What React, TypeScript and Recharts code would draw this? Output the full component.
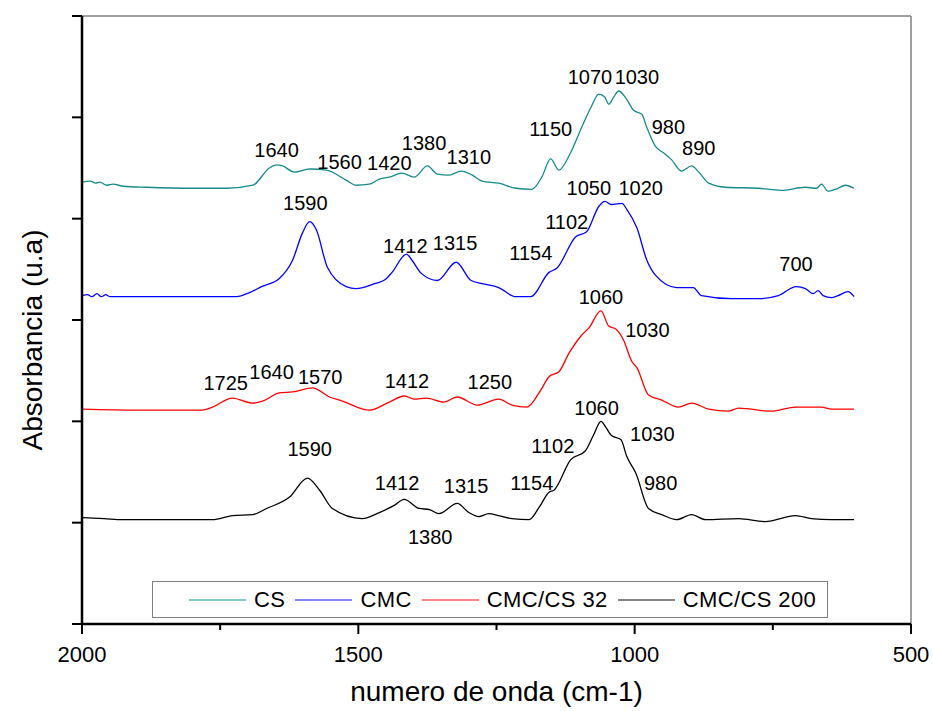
import { LineChart, Line, XAxis, YAxis, ReferenceDot, ReferenceLine, Legend } from "recharts";

const W = 933;
const H = 711;
const FONT = "'Liberation Sans', Arial, sans-serif";

// x axis (wavenumber, cm-1)
const xTicks = [2000, 1750, 1500, 1250, 1000, 750, 500];
const xMajor = [2000, 1500, 1000, 500];
const yTicks = [0, 1, 2, 3, 4, 5, 6];

// CS
const csWave = [2000, 1985, 1975, 1968, 1955, 1944, 1925, 1883, 1800, 1738, 1691, 1661, 1648, 1637, 1616, 1588, 1558, 1522, 1504, 1480, 1462, 1444, 1421, 1399, 1375, 1357, 1336, 1314, 1294, 1276, 1246, 1215, 1186, 1168, 1152, 1137, 1116, 1096, 1079, 1065, 1054, 1047, 1038, 1029, 1016, 1002, 987, 978, 962, 948, 933, 915, 897, 884, 866, 836, 776, 735, 691, 671, 662, 650, 632, 619, 603];
const csAbs = [4.36, 4.37, 4.35, 4.36, 4.33, 4.34, 4.32, 4.31, 4.3, 4.3, 4.33, 4.5, 4.53, 4.52, 4.46, 4.49, 4.48, 4.38, 4.33, 4.34, 4.39, 4.41, 4.45, 4.41, 4.52, 4.44, 4.43, 4.47, 4.43, 4.37, 4.35, 4.3, 4.29, 4.41, 4.59, 4.48, 4.65, 4.9, 5.1, 5.23, 5.2, 5.13, 5.2, 5.26, 5.19, 5.07, 5.03, 4.9, 4.71, 4.65, 4.58, 4.47, 4.52, 4.46, 4.35, 4.31, 4.3, 4.28, 4.31, 4.3, 4.34, 4.27, 4.3, 4.33, 4.3];

// CMC
const cmcWave = [2000, 1990, 1982, 1973, 1965, 1957, 1949, 1926, 1823, 1720, 1697, 1675, 1643, 1619, 1601, 1588, 1576, 1556, 1522, 1504, 1475, 1449, 1439, 1413, 1403, 1386, 1357, 1323, 1296, 1276, 1246, 1215, 1188, 1155, 1141, 1107, 1087, 1065, 1054, 1042, 1023, 1014, 996, 978, 962, 924, 894, 879, 825, 776, 740, 708, 691, 677, 668, 659, 644, 632, 614, 603];
const cmcAbs = [3.24, 3.25, 3.23, 3.26, 3.23, 3.25, 3.23, 3.23, 3.23, 3.23, 3.27, 3.33, 3.41, 3.59, 3.86, 3.97, 3.89, 3.52, 3.33, 3.31, 3.35, 3.41, 3.47, 3.65, 3.59, 3.46, 3.39, 3.57, 3.39, 3.36, 3.32, 3.23, 3.23, 3.47, 3.51, 3.82, 3.87, 4.12, 4.17, 4.14, 4.15, 4.09, 3.91, 3.59, 3.44, 3.32, 3.32, 3.24, 3.21, 3.21, 3.24, 3.33, 3.31, 3.26, 3.29, 3.24, 3.22, 3.24, 3.28, 3.23];

// CMC/CS 32
const mix32Wave = [2000, 1900, 1782, 1764, 1728, 1691, 1673, 1643, 1619, 1583, 1552, 1529, 1480, 1444, 1417, 1399, 1377, 1345, 1321, 1285, 1246, 1222, 1195, 1173, 1155, 1137, 1119, 1096, 1083, 1061, 1047, 1034, 1020, 1005, 996, 975, 951, 921, 897, 866, 830, 812, 753, 709, 662, 644, 603];
const mix32Abs = [2.12, 2.11, 2.11, 2.14, 2.23, 2.18, 2.2, 2.28, 2.29, 2.33, 2.24, 2.2, 2.11, 2.19, 2.25, 2.22, 2.23, 2.19, 2.24, 2.16, 2.22, 2.16, 2.14, 2.28, 2.44, 2.49, 2.67, 2.85, 2.92, 3.09, 2.94, 2.91, 2.8, 2.59, 2.53, 2.26, 2.21, 2.14, 2.18, 2.12, 2.1, 2.13, 2.1, 2.14, 2.14, 2.12, 2.12];

// CMC/CS 200
const mix200Wave = [2000, 1960, 1926, 1850, 1764, 1728, 1691, 1666, 1625, 1592, 1570, 1547, 1493, 1462, 1435, 1417, 1390, 1372, 1354, 1321, 1300, 1282, 1264, 1246, 1222, 1191, 1173, 1155, 1146, 1116, 1089, 1074, 1061, 1052, 1042, 1025, 1014, 998, 975, 951, 924, 897, 872, 812, 764, 709, 680, 644, 603];
const mix200Abs = [1.05, 1.04, 1.03, 1.03, 1.03, 1.07, 1.08, 1.14, 1.25, 1.44, 1.32, 1.14, 1.04, 1.1, 1.17, 1.23, 1.14, 1.13, 1.09, 1.19, 1.1, 1.06, 1.09, 1.07, 1.04, 1.03, 1.15, 1.3, 1.32, 1.62, 1.71, 1.87, 2.0, 1.94, 1.86, 1.82, 1.65, 1.49, 1.14, 1.08, 1.03, 1.08, 1.03, 1.04, 1.01, 1.07, 1.04, 1.03, 1.03];

// peak annotations: [text, wavenumber, absorbance]
const csPeaks: [string, number, number][] = [
  ["1640", 1648, 4.68], ["1560", 1534, 4.56], ["1420", 1444, 4.55], ["1380", 1381, 4.75],
  ["1310", 1300, 4.61], ["1150", 1152, 4.89], ["1070", 1081, 5.4], ["1030", 996, 5.4],
  ["980", 939, 4.91], ["890", 884, 4.7],
];
const cmcPeaks: [string, number, number][] = [
  ["1590", 1596, 4.16], ["1412", 1415, 3.73], ["1315", 1325, 3.76], ["1154", 1188, 3.66],
  ["1102", 1123, 3.97], ["1050", 1083, 4.3], ["1020", 989, 4.3], ["700", 708, 3.55],
];
const mix32Peaks: [string, number, number][] = [
  ["1725", 1740, 2.38], ["1640", 1657, 2.49], ["1570", 1569, 2.44], ["1412", 1412, 2.4],
  ["1250", 1262, 2.39], ["1060", 1061, 3.23], ["1030", 977, 2.9],
];
const mix200Peaks: [string, number, number][] = [
  ["1590", 1588, 1.73], ["1412", 1430, 1.39], ["1315", 1305, 1.36], ["1380", 1370, 0.86],
  ["1154", 1186, 1.39], ["1102", 1148, 1.76], ["1060", 1069, 2.13], ["1030", 968, 1.88],
  ["980", 953, 1.39],
];

const seriesNames = ["CS", "CMC", "CMC/CS 32", "CMC/CS 200"];
const seriesColors = ["#168a8a", "#0000ff", "#ff0000", "#000000"];
const legendColors = ["#86c8c6", "#8585ff", "#ff8585", "#858585"];

const toRows = (wave: number[], abs: number[]) => wave.map((x, i) => ({ x, y: abs[i] }));
const series = [
  toRows(csWave, csAbs),
  toRows(cmcWave, cmcAbs),
  toRows(mix32Wave, mix32Abs),
  toRows(mix200Wave, mix200Abs),
];
const peaks = [...csPeaks, ...cmcPeaks, ...mix32Peaks, ...mix200Peaks];

const M = { top: 16, right: 22, left: 72, bottom: 0 };
const X_AXIS_H = 87;
const Y_AXIS_W = 10;

function XTick({ x, y, payload }: any) {
  const major = xMajor.includes(payload.value);
  return (
    <g>
      <line x1={x} x2={x} y1={y} y2={y + (major ? 10 : 6)} stroke="#000" strokeWidth={2} />
      {major && (
        <text x={x} y={y + 38} textAnchor="middle" fontSize={22} fill="#000">
          {payload.value}
        </text>
      )}
    </g>
  );
}

function XTitle() {
  const cx = M.left + Y_AXIS_W + (W - M.left - Y_AXIS_W - M.right) / 2;
  return (
    <text x={cx} y={H - 10} textAnchor="middle" fontSize={28} fill="#000">
      numero de onda (cm-1)
    </text>
  );
}

function YTitle() {
  const x = 42;
  const y = 340;
  return (
    <text x={x} y={y} transform={`rotate(-90 ${x} ${y})`} textAnchor="middle" fontSize={28} fill="#000">
      Absorbancia (u.a)
    </text>
  );
}

function LegendBox() {
  return (
    <div
      style={{
        boxSizing: "border-box",
        width: 676,
        height: 37,
        border: "1.5px solid #808080",
        display: "flex",
        alignItems: "center",
        paddingLeft: 36,
        fontFamily: FONT,
        fontSize: 22,
        color: "#000",
        background: "#fff",
      }}
    >
      {seriesNames.map((name, i) => (
        <span key={name} style={{ display: "flex", alignItems: "center", marginRight: 10 }}>
          <span style={{ display: "inline-block", width: 57, height: 2, background: legendColors[i], marginRight: 8 }} />
          <span style={{ letterSpacing: 0.4 }}>{name}</span>
        </span>
      ))}
    </div>
  );
}

export default function App() {
  return (
    <div style={{ position: "absolute", left: 0, top: 0, width: W, height: H, background: "#fff", fontFamily: FONT }}>
      <LineChart width={W} height={H} margin={M}>
        <XAxis
          dataKey="x"
          type="number"
          domain={[500, 2000]}
          reversed
          ticks={xTicks}
          interval={0}
          allowDataOverflow
          height={X_AXIS_H}
          tickSize={0}
          tickMargin={0}
          tickLine={false}
          tick={<XTick />}
          axisLine={{ stroke: "#000", strokeWidth: 2.5 }}
          label={<XTitle />}
        />
        <YAxis
          type="number"
          domain={[0, 6]}
          ticks={yTicks}
          interval={0}
          allowDataOverflow
          width={Y_AXIS_W}
          tickSize={10}
          tickFormatter={() => ""}
          tickLine={{ stroke: "#000", strokeWidth: 2 }}
          axisLine={{ stroke: "#000", strokeWidth: 2.5 }}
          label={<YTitle />}
        />
        <ReferenceLine y={6} stroke="#808080" strokeWidth={1.5} />
        <ReferenceLine x={500} stroke="#808080" strokeWidth={1.5} />
        <Legend
          layout="horizontal"
          verticalAlign="middle"
          align="center"
          content={() => <LegendBox />}
          wrapperStyle={{ left: 152, top: 581, width: 676, height: 37 }}
        />
        {series.map((rows, i) => (
          <Line
            key={seriesNames[i]}
            data={rows}
            dataKey="y"
            name={seriesNames[i]}
            type="monotone"
            stroke={seriesColors[i]}
            strokeWidth={1.3}
            dot={false}
            activeDot={false}
            isAnimationActive={false}
          />
        ))}
        {peaks.map(([t, x, y], i) => (
          <ReferenceDot
            key={`p${i}`}
            x={x}
            y={y}
            r={0}
            fill="none"
            stroke="none"
            label={{ value: t, position: "center", fontSize: 20, fill: "#000" }}
          />
        ))}
      </LineChart>
    </div>
  );
}
